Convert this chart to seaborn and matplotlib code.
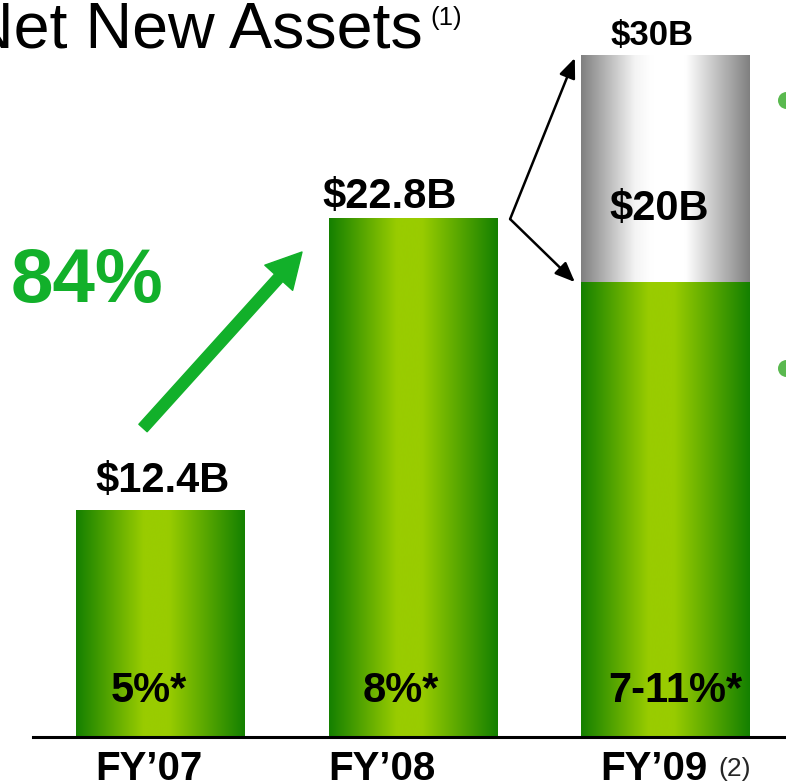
import numpy as np
import pandas as pd
import matplotlib
matplotlib.use("Agg")
import matplotlib.pyplot as plt
import seaborn as sns
from matplotlib.colors import LinearSegmentedColormap
from matplotlib.patches import FancyArrowPatch

# ---------------- data ----------------
categories = ["FY\u201907", "FY\u201908", "FY\u201909"]
base_values = [10.0, 22.8, 20.0]      # green bar heights as drawn
upper_values = [0.0, 0.0, 10.0]       # grey range on top (FY'09: $20B -> $30B)
value_labels = ["$12.4B", "$22.8B", "$30B"]
range_label = "$20B"
pct_labels = ["5%*", "8%*", "7-11%*"]
growth_label = "84%"
title_text = "Net New Assets"
title_note = "(1)"
fy09_note = "(2)"

totals = [b + u for b, u in zip(base_values, upper_values)]
df = pd.DataFrame({"cat": categories, "base": base_values, "total": totals})

# ---------------- style ----------------
sns.set_style("white")
plt.rcParams["font.family"] = ["Liberation Sans", "DejaVu Sans"]

W, H = 786, 784
fig = plt.figure(figsize=(W / 100, H / 100), dpi=100)
ax = fig.add_axes([33 / W, 47 / H, (W - 33) / W, 737 / H])

BAR_W = 0.669
sns.barplot(data=df, x="cat", y="total", color="#c0c0c0", width=BAR_W,
            saturation=1, ax=ax)
sns.barplot(data=df, x="cat", y="base", color="#5aa800", width=BAR_W,
            saturation=1, ax=ax)

green_cmap = LinearSegmentedColormap.from_list(
    "g", [(0, "#148000"), (0.40, "#99CC00"), (0.55, "#99CC00"), (1, "#148000")])
gray_cmap = LinearSegmentedColormap.from_list(
    "s", [(0, "#808080"), (0.32, "#F4F4F4"), (0.42, "#FFFFFF"),
          (0.62, "#FFFFFF"), (1, "#808080")])
grad = np.linspace(0, 1, 256).reshape(1, -1)

patches = list(ax.patches)
gray_patches = patches[:3]
green_patches = patches[3:6]
for i, p in enumerate(gray_patches):
    p.set_edgecolor("none")
    p.set_linewidth(0)
    p.set_zorder(1.0)
    if upper_values[i] <= 0:
        p.set_visible(False)
        continue
    x0, w, y0, h = p.get_x(), p.get_width(), p.get_y(), p.get_height()
    im = ax.imshow(grad, cmap=gray_cmap, extent=[x0, x0 + w, y0, y0 + h],
                   aspect="auto", interpolation="bicubic", zorder=1.1)
    im.set_clip_path(p)
for p in green_patches:
    p.set_edgecolor("none")
    p.set_linewidth(0)
    p.set_zorder(1.2)
    x0, w, y0, h = p.get_x(), p.get_width(), p.get_y(), p.get_height()
    im = ax.imshow(grad, cmap=green_cmap, extent=[x0, x0 + w, y0, y0 + h],
                   aspect="auto", interpolation="bicubic", zorder=1.3)
    im.set_clip_path(p)

ax.set_xlim(-0.506, 2.477)
ax.set_ylim(0, 32.4)
ax.set_xticks([])
ax.set_yticks([])
ax.set_xlabel("")
ax.set_ylabel("")
for s in ["left", "right", "top"]:
    ax.spines[s].set_visible(False)
ax.spines["bottom"].set_color("black")
ax.spines["bottom"].set_linewidth(2.2)
ax.spines["bottom"].set_zorder(3)

bold = dict(fontweight="bold", color="black", va="baseline", ha="center",
            textcoords="offset pixels", annotation_clip=False, zorder=4)

# value labels above bars
val_offsets = [(2, 18), (-23.5, 10), (-14, 10)]
val_sizes = [30, 30, 25]
for i, lab in enumerate(value_labels):
    ax.annotate(lab, xy=(i, totals[i]), xytext=val_offsets[i],
                fontsize=val_sizes[i], **bold)

# range label inside grey section
ax.annotate(range_label, xy=(2, base_values[2]), xytext=(-6, 62),
            fontsize=30, **bold)

# percentage labels inside bars
pct_dx = [-12, -12, 10]
for i, lab in enumerate(pct_labels):
    ax.annotate(lab, xy=(i, 0), xytext=(pct_dx[i], 35), fontsize=30, **bold)

# category labels
cat_dx = [-11.5, -31.5, -12]
for i, lab in enumerate(categories):
    ax.annotate(lab, xy=(i, 0), xytext=(cat_dx[i], -43), fontsize=29, **bold)
ax.annotate(fy09_note, xy=(2, 0), xytext=(53, -39), textcoords="offset pixels",
            fontsize=19, ha="left", va="baseline", annotation_clip=False)

# title
fig.text(423 / W, 1 - 48 / H, title_text, ha="right", va="baseline",
         fontsize=46.5, color="black")
fig.text(430 / W, 1 - 24.5 / H, title_note, ha="left", va="baseline",
         fontsize=18.5, color="black")

# growth label and arrow
GREEN = "#12B02A"
fig.text(11 / W, 1 - 302 / H, growth_label, ha="left", va="baseline",
         fontsize=55, fontweight="bold", color=GREEN)
garrow = FancyArrowPatch((143 / W, 1 - 428 / H), (302 / W, 1 - 252 / H),
                         transform=fig.transFigure,
                         arrowstyle="simple,head_length=25,head_width=27,tail_width=8",
                         mutation_scale=1, color=GREEN, shrinkA=0, shrinkB=0)
fig.add_artist(garrow)

# black bracket arrows pointing at $30B and $20B levels
apex = (1.384, 22.77)
bar3_left = 2 - BAR_W / 2
for target in [totals[2] - 0.15, base_values[2]]:
    ax.annotate("", xy=(bar3_left - 0.025, target), xytext=apex,
                arrowprops=dict(arrowstyle="-|>,head_length=0.6,head_width=0.25",
                                mutation_scale=20, color="black", lw=1.8,
                                shrinkA=0, shrinkB=0),
                annotation_clip=False, zorder=4)

# bullet dots at right edge
ax.scatter([2.477, 2.477], [28.0, 16.22], s=150, color="#5AB94F",
           clip_on=False, zorder=5, linewidths=0)

fig.savefig("out.png", dpi=100)
